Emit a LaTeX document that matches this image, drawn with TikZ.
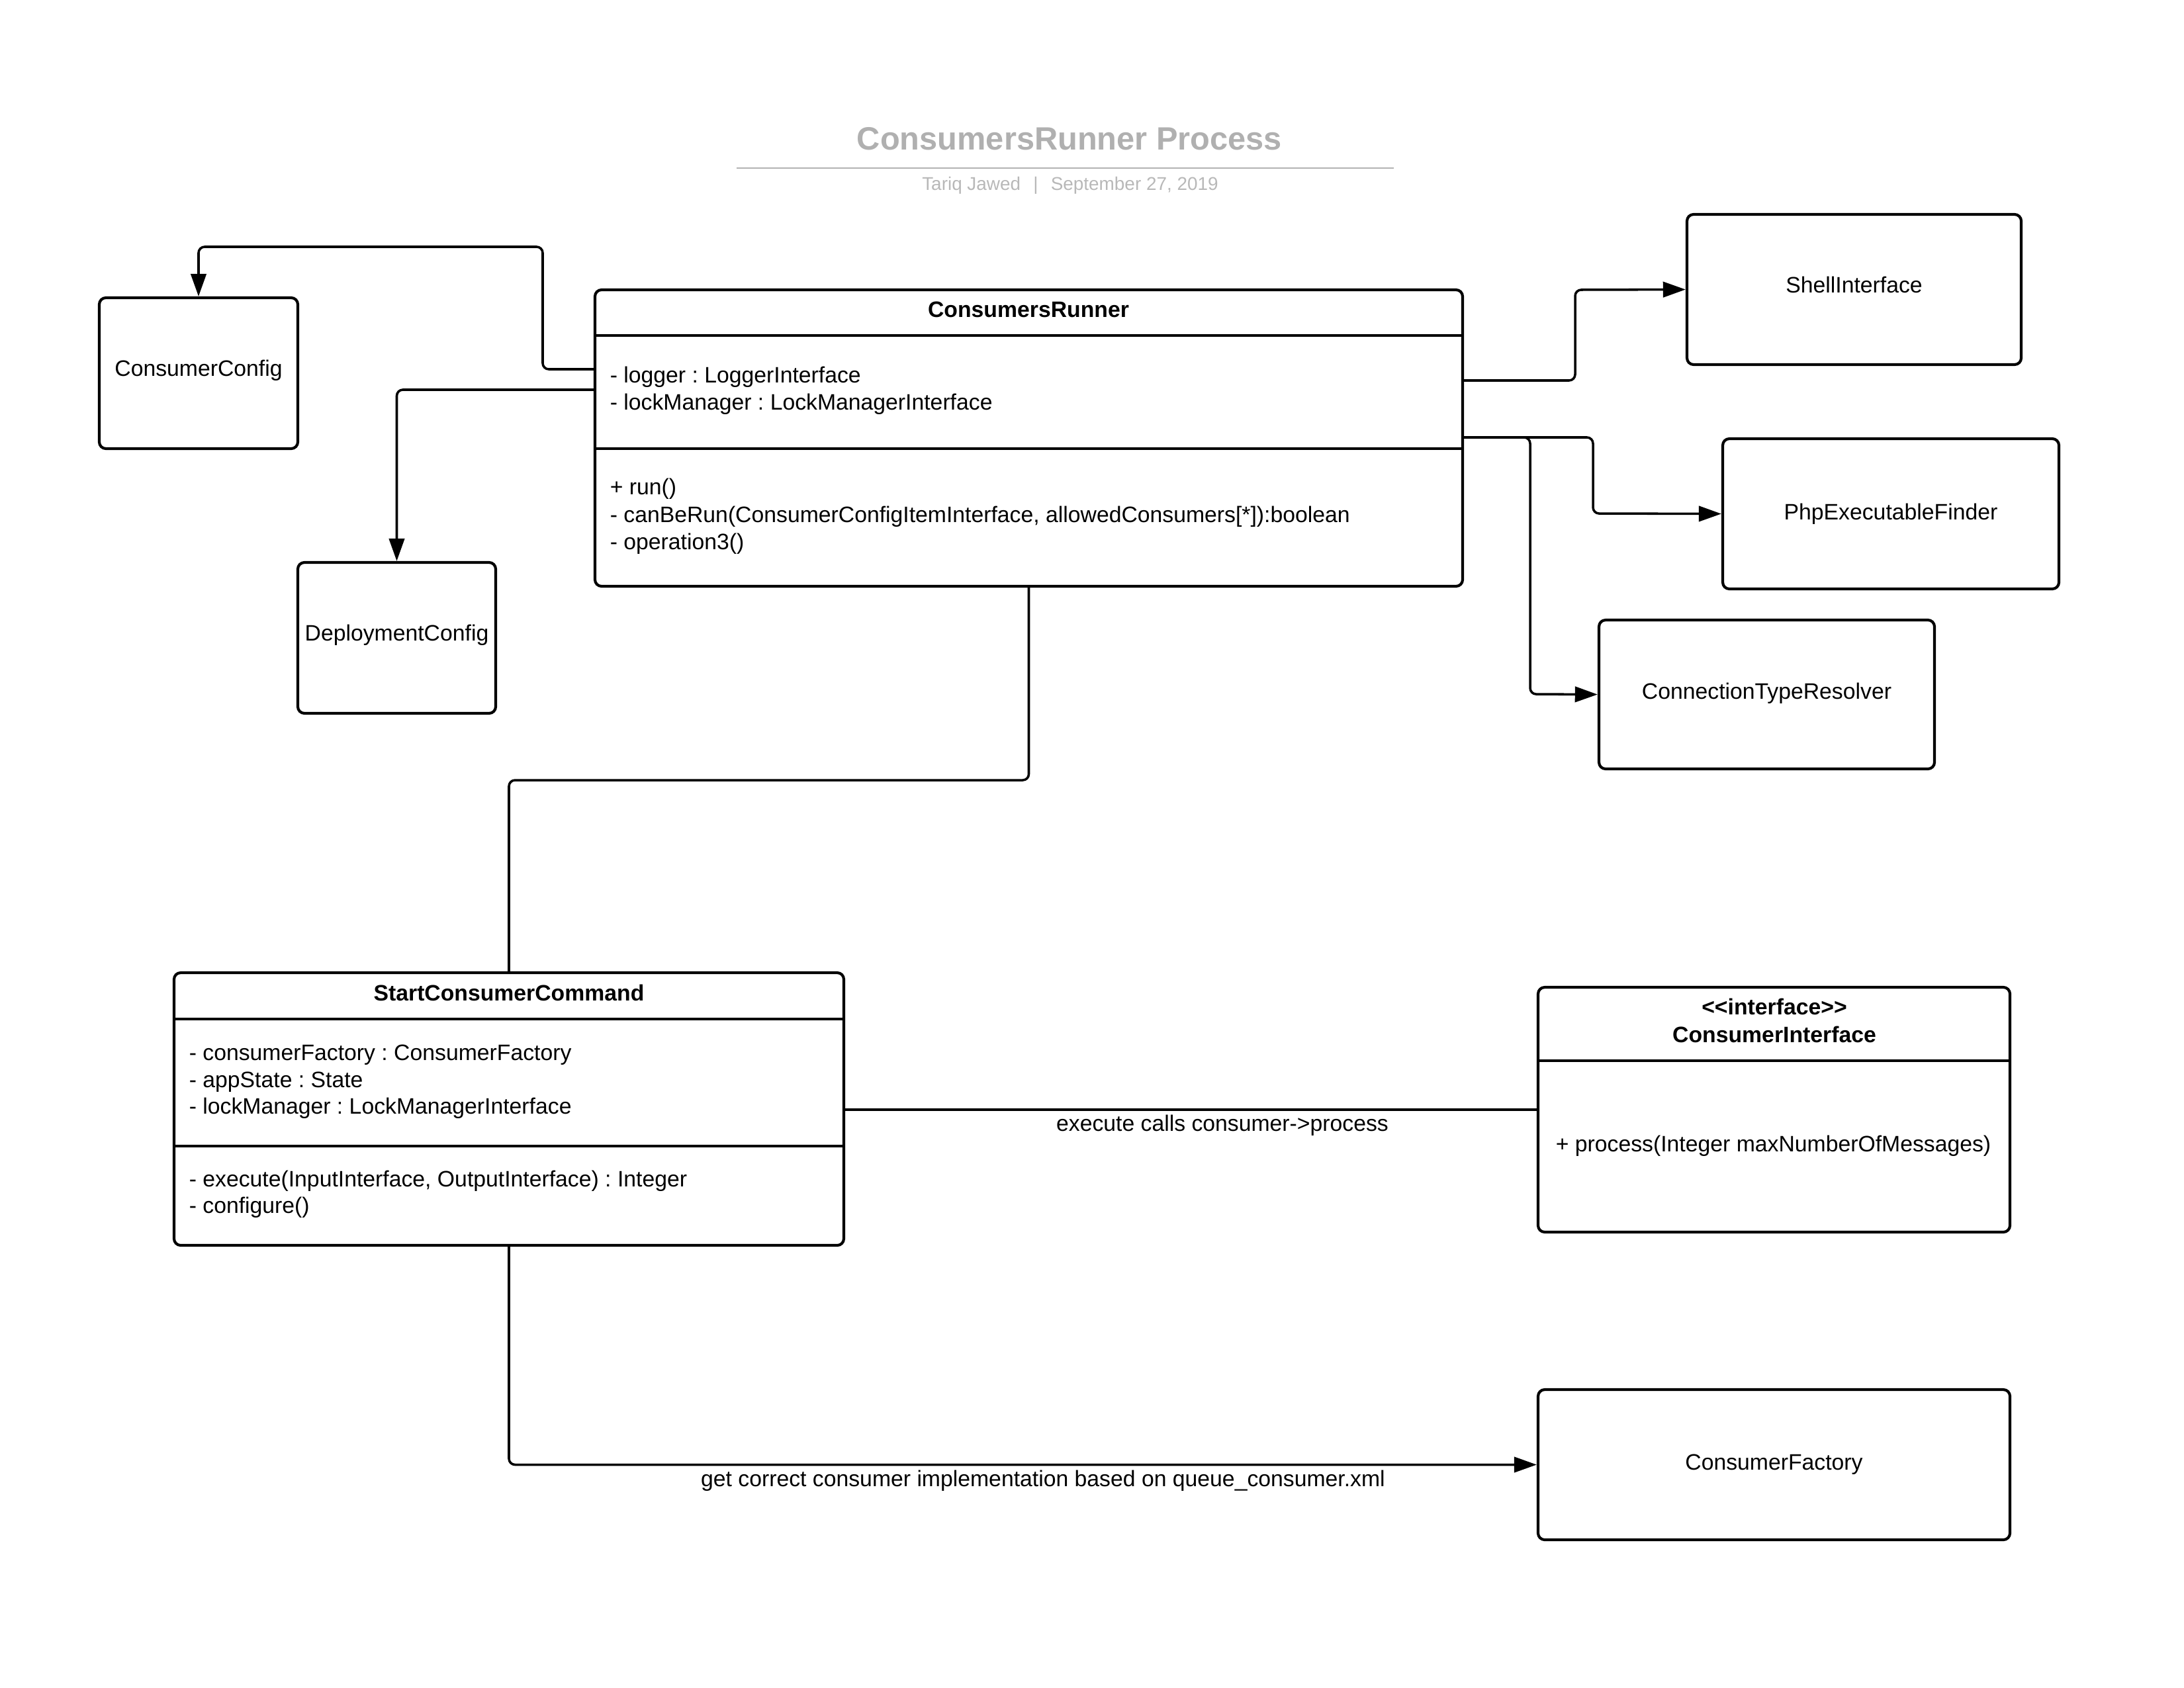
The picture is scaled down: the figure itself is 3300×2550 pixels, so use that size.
\documentclass[tikz,border=0pt]{standalone}
\usepackage{fontspec}
\setmainfont{Liberation Sans}
\usetikzlibrary{arrows.meta,fit}
\frenchspacing

\tikzset{
  box/.style={draw=black, line width=1pt, rounded corners=2.4pt, inner sep=0pt, fill=white},
  divider/.style={draw=black, line width=1pt},
  conn/.style={draw=black, line width=0.85pt, rounded corners=2.2pt},
  arr/.style={conn, -{Triangle[length=8.2pt,width=5.6pt]}},
  txt/.style={inner sep=0pt, font=\fontsize{8.1}{9.7}\selectfont},
  bold txt/.style={txt, font=\fontsize{8.1}{9.7}\selectfont\bfseries},
  member/.style={txt, anchor=base west},
  heading/.style={bold txt, anchor=base},
  titletxt/.style={inner sep=0pt, anchor=base, text=black!31, font=\fontsize{11.7}{14}\selectfont\bfseries},
  subtxt/.style={inner sep=0pt, anchor=base, text=black!28, font=\fontsize{6.7}{8}\selectfont},
}

\begin{document}
\begin{tikzpicture}[x=0.24pt, y=-0.24pt]
\useasboundingbox (0,0) rectangle (3300,2550);

% ---- heading ----
\node[titletxt] (title) at (1616,226) {ConsumersRunner Process};
\draw[draw=black!30, line width=0.65pt] (1113,254) coordinate (ruleL) -- (2106,254) coordinate (ruleR);
\node[subtxt] (subtitle) at (1617,287) {Tariq Jawed\hspace{4.6pt}|\hspace{4.6pt}September 27, 2019};

% ---- ConsumersRunner class ----
\node[box, fit={(899,438) (2210,886)}] (cr) {};
\draw[divider] (cr.west |- 0,507) -- (cr.east |- 0,507);
\draw[divider] (cr.west |- 0,678) -- (cr.east |- 0,678);
\node[heading] (crname) at (1554,479) {ConsumersRunner};
\node[member] (cra1) at (921,578) {- logger : LoggerInterface};
\node[member] (cra2) at (921,619) {- lockManager : LockManagerInterface};
\node[member] (crm1) at (921,747) {+ run()};
\node[member] (crm2) at (921,789) {- canBeRun(ConsumerConfigItemInterface, allowedConsumers[*]):boolean};
\node[member] (crm3) at (921,830) {- operation3()};

% ---- simple collaborators ----
\node[box, fit={(150,450) (450,678)}] (cc) {};
\node[txt] (cctxt) at ([yshift=1pt]cc.center) {ConsumerConfig};

\node[box, fit={(450,850) (749,1078)}] (dc) {};
\node[txt] (dctxt) at ([yshift=1pt]dc.center) {DeploymentConfig};

\node[box, fit={(2549,324) (3054,551)}] (si) {};
\node[txt] (sitxt) at ([yshift=1.6pt]si.center) {ShellInterface};

\node[box, fit={(2603,663) (3111,890)}] (pef) {};
\node[txt] (peftxt) at (pef.center) {PhpExecutableFinder};

\node[box, fit={(2416,937) (2923,1162)}] (ctr) {};
\node[txt] (ctrtxt) at ([yshift=0.5pt]ctr.center) {ConnectionTypeResolver};

% ---- StartConsumerCommand class ----
\node[box, fit={(263,1470) (1275,1882)}] (scc) {};
\draw[divider] (scc.west |- 0,1540) -- (scc.east |- 0,1540);
\draw[divider] (scc.west |- 0,1732) -- (scc.east |- 0,1732);
\node[heading] (sccname) at (769,1512) {StartConsumerCommand};
\node[member] (scca1) at (285,1602) {- consumerFactory : ConsumerFactory};
\node[member] (scca2) at (285,1643) {- appState : State};
\node[member] (scca3) at (285,1683) {- lockManager : LockManagerInterface};
\node[member] (sccm1) at (285,1793) {- execute(InputInterface, OutputInterface) : Integer};
\node[member] (sccm2) at (285,1833) {- configure()};

% ---- ConsumerInterface ----
\node[box, fit={(2324,1492) (3037,1862)}] (ci) {};
\draw[divider] (ci.west |- 0,1603) -- (ci.east |- 0,1603);
\node[heading] (cistereo) at (2681,1533) {{<}{<}interface{>}{>}};
\node[heading] (ciname) at (2681,1575) {ConsumerInterface};
\node[member] (cim1) at (2350,1740) {+ process(Integer maxNumberOfMessages)};

% ---- ConsumerFactory ----
\node[box, fit={(2324,2100) (3037,2327)}] (cf) {};
\node[txt] (cftxt) at (cf.center) {ConsumerFactory};

% ---- connectors ----
\draw[arr] (cr.west |- 0,558) -| (820,373) -| (cc.north);
\draw[arr] (cr.west |- 0,589) -| (dc.north);
\draw[arr] (cr.east |- 0,575) -| (2380,438) -- (si.west);
\draw[arr] (cr.east |- 0,661) -| (2407,776) -- (pef.west);
\draw[arr] (cr.east |- 0,661) -| (2312,1049) -- (ctr.west);
\draw[conn] (cr.south) |- (scc.north |- 0,1179) -- (scc.north);
\draw[conn] (scc.east |- 0,1677) -- (ci.west |- 0,1677);
\node[txt] (execlbl) at (1847,1701) {execute calls consumer->process};
\draw[arr] (scc.south) |- (cf.west);
\node[txt] (getlbl) at (1576,2238) {get correct consumer implementation based on queue\_consumer.xml};

\end{tikzpicture}
\end{document}
